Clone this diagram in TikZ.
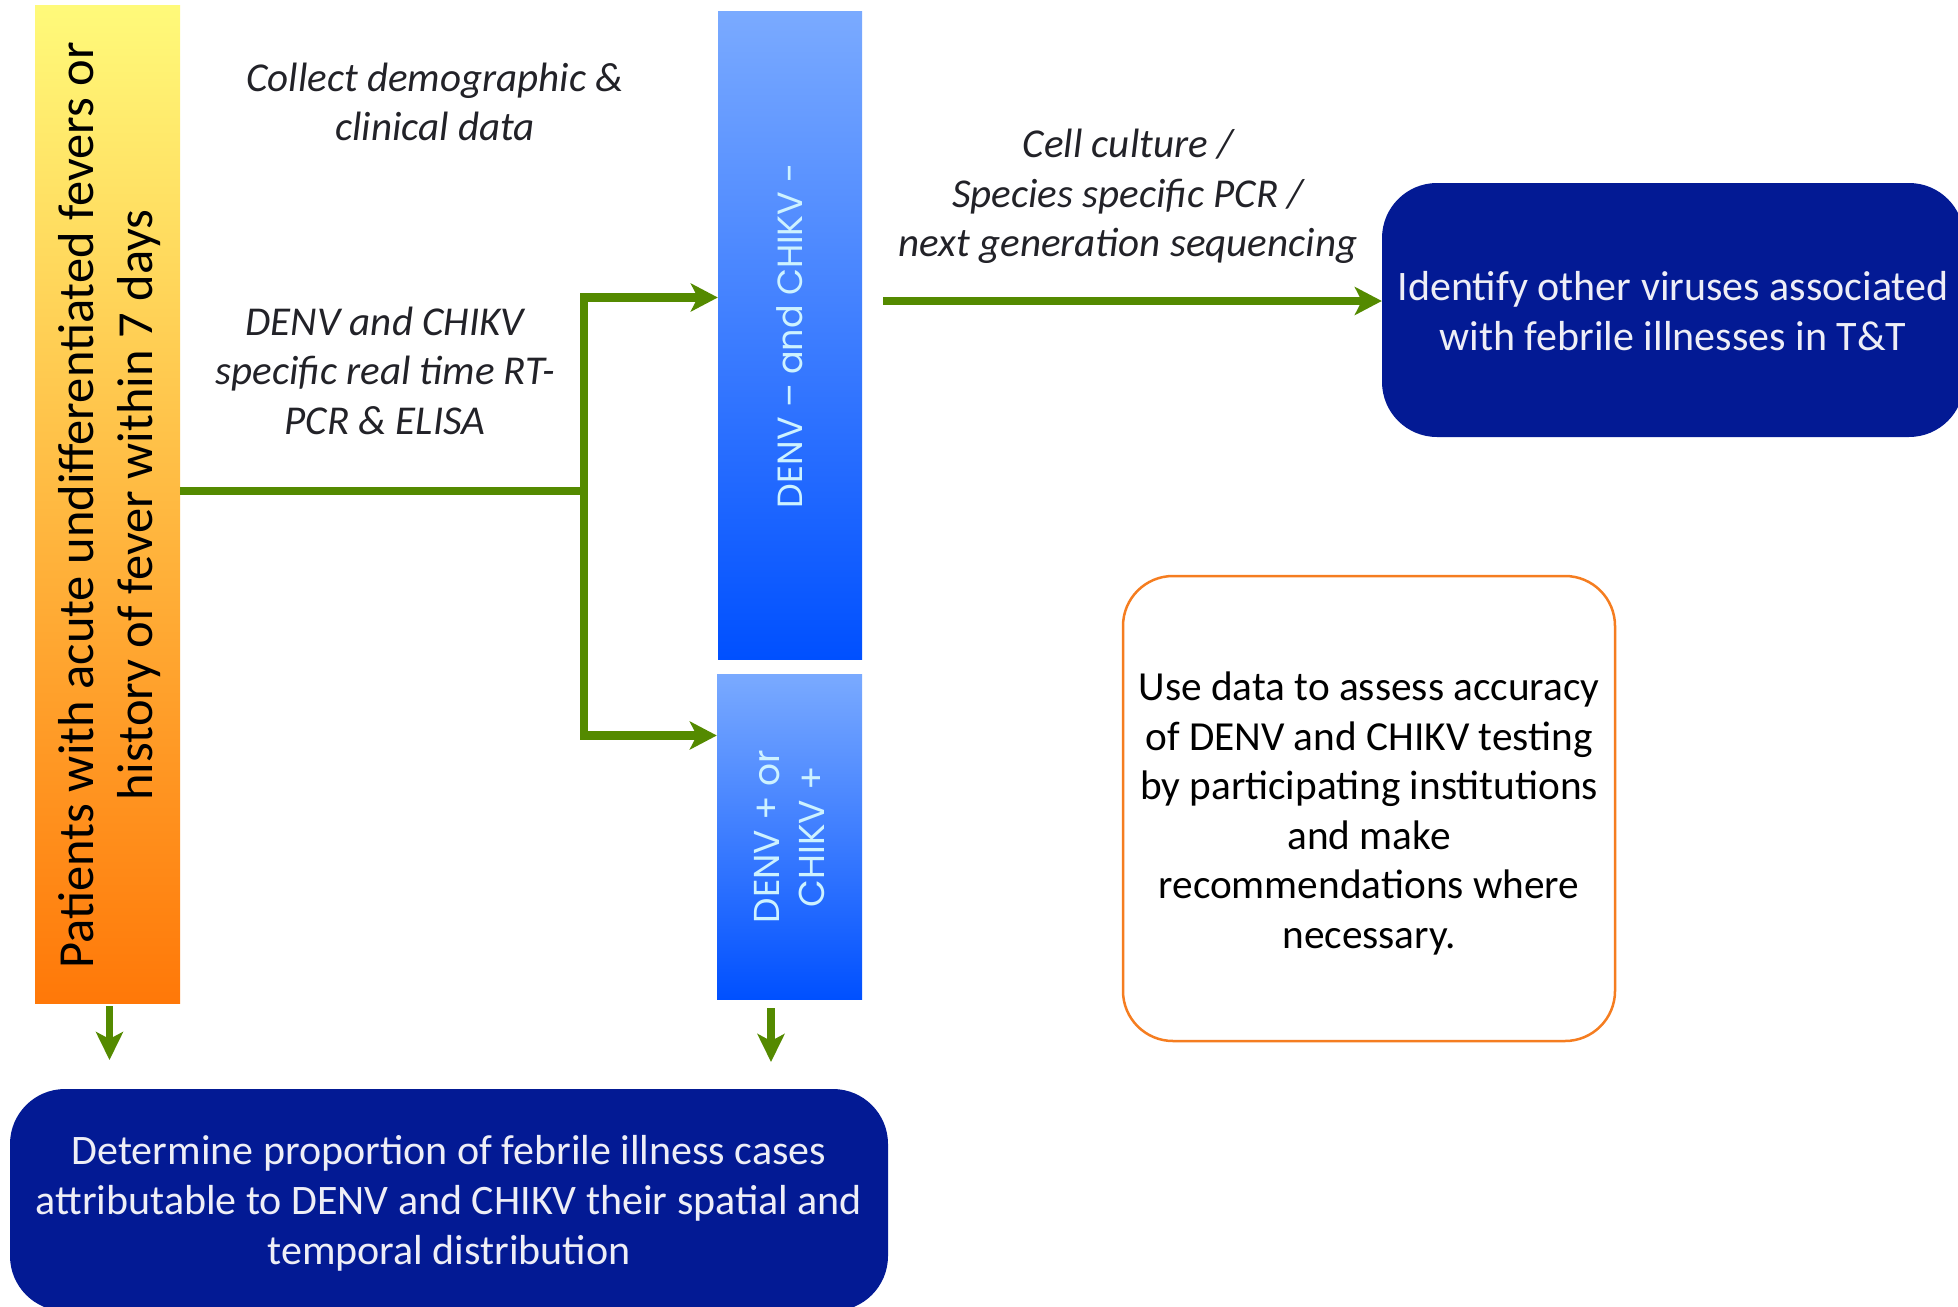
\documentclass[tikz,border=0pt]{standalone}
\usepackage{fontspec}
\setmainfont{Carlito}
\newfontfamily\geofont{Poppins}
\usetikzlibrary{arrows.meta}

\definecolor{flowgreen}{RGB}{84,138,0}
\definecolor{navy}{RGB}{3,26,148}
\definecolor{skytop}{RGB}{122,170,255}
\definecolor{skybot}{RGB}{0,80,255}
\definecolor{suntop}{RGB}{255,250,122}
\definecolor{sunbot}{RGB}{255,120,8}
\definecolor{rimorange}{RGB}{245,125,32}
\definecolor{paletext}{RGB}{205,242,255}
\definecolor{notegray}{RGB}{34,34,40}
\definecolor{boxtext}{RGB}{238,238,246}

\tikzset{
  conn/.style={draw=flowgreen, line width=8.5pt},
  flow/.style={conn, -{Stealth[length=27pt, width=28pt, inset=7pt]}},
  drop/.style={draw=flowgreen, line width=7.5pt, -{Stealth[length=28pt, width=27pt, inset=7pt]}},
  patbox/.style={top color=suntop, bottom color=sunbot, draw=none, inner sep=0pt},
  resbox/.style={top color=skytop, bottom color=skybot, draw=none, inner sep=0pt},
  restext/.style={rotate=90, align=center, text=paletext, font=\geofont\fontsize{36}{45}\selectfont},
  goalbox/.style={fill=navy, draw=none, rounded corners=55pt, inner sep=0pt},
  goaltext/.style={align=center, text=boxtext, font=\fontsize{42}{50}\selectfont},
  notebox/.style={draw=rimorange, line width=2.5pt, fill=white, rounded corners=50pt, inner sep=0pt},
  notetext/.style={align=center, text=black, font=\fontsize{41.3}{49.5}\selectfont},
  note/.style={align=center, text=notegray, font=\itshape\fontsize{41}{49.5}\selectfont},
}

\begin{document}
\begin{tikzpicture}[x=1pt, y=-1pt]
\useasboundingbox (0,0) rectangle (1958,1306);
\clip (0,0) rectangle (1958,1306);

% patient intake column
\node[patbox, minimum width=145pt, minimum height=997pt] (pat) at (107.5,504.5) {};
\node[rotate=90, align=center, text=black, font=\fontsize{50.5}{59}\selectfont] (patT) at (110,505)
  {Patients with acute undifferentiated fevers or\\history of fever within 7 days};

% test result columns
\node[resbox, minimum width=144pt, minimum height=647pt] (ub) at (790,335.5) {};
\node[restext, font=\geofont\fontsize{35}{45}\selectfont] (ubT) at (ub.center) {DENV – and CHIKV -};
\node[resbox, minimum width=145pt, minimum height=325pt] (lb) at (789.5,836.5) {};
\node[restext] (lbT) at (lb.center) {DENV + or\\CHIKV +};

% outcome boxes
\node[goalbox, minimum width=582pt, minimum height=254pt] (rb) at (1673,310) {};
\node[goaltext] (rbT) at (1673,311)
  {Identify other viruses associated\\with febrile illnesses in T\&T};
\node[goalbox, minimum width=878pt, minimum height=222pt] (bb) at (449,1200) {};
\node[goaltext] (bbT) at (449,1203.5)
  {Determine proportion of febrile illness cases\\attributable to DENV and CHIKV their spatial and\\temporal distribution};
\node[notebox, minimum width=492pt, minimum height=465pt] (ob) at (1369,808.5) {};
\node[notetext] (obT) at (1369,813.5)
  {Use data to assess accuracy\\of DENV and CHIKV testing\\by participating institutions\\and make\\recommendations where\\necessary.};

% method labels
\node[note] (t1) at (435,102) {Collect demographic \&\\clinical data};
\node[note] (t2) at (385,370.5) {DENV and CHIKV\\specific real time RT-\\PCR \& ELISA};
\node[note] (t3) at (1128,196.5) {Cell culture /\\Species specific PCR /\\next generation sequencing};

% branching connector
\coordinate (split) at (584,491);
\coordinate (jt) at (584,297.5);
\coordinate (jb) at (584,735.5);
\draw[conn] (pat.east |- split) -- (split);
\draw[conn, line cap=rect] (jt) -- (jb);
\draw[flow] (jt) -- (jt -| ub.west);
\draw[flow] (jb) -- (jb -| lb.west);

% further testing of negatives
\coordinate (cs) at (883,301);
\draw[flow] (cs) -- (cs -| rb.west);

% drops into the summary box
\coordinate (d1a) at (109.5,1006);
\coordinate (d1b) at (109.5,1060);
\coordinate (d2a) at (771,1008);
\coordinate (d2b) at (771,1062);
\draw[drop] (d1a) -- (d1b);
\draw[drop] (d2a) -- (d2b);
\end{tikzpicture}
\end{document}
